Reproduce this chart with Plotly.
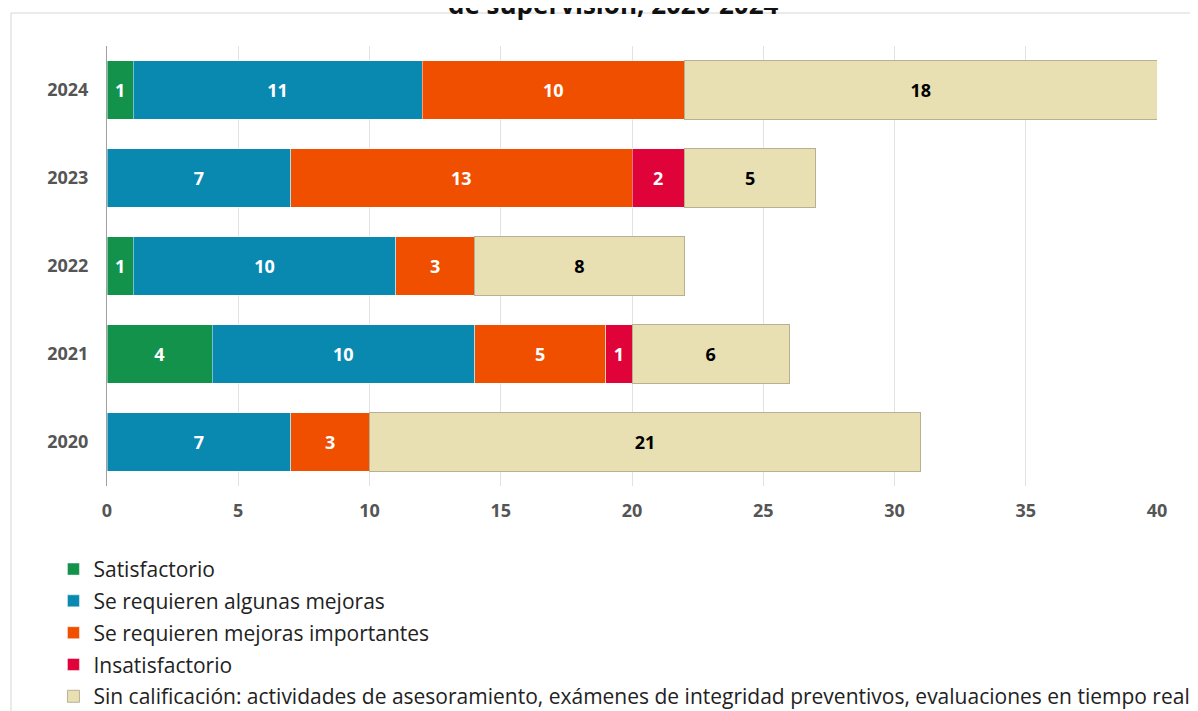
import plotly.graph_objects as go

years = ["2020", "2021", "2022", "2023", "2024"]
satisfactorio = [0, 4, 1, 0, 1]
algunas_mejoras = [7, 10, 10, 7, 11]
mejoras_importantes = [3, 5, 3, 13, 10]
insatisfactorio = [0, 1, 0, 2, 0]
sin_calificacion = [21, 6, 8, 5, 18]

series = [
    ("Satisfactorio", satisfactorio, "#13924c", "white", "rgba(255,255,255,0.45)"),
    ("Se requieren algunas mejoras", algunas_mejoras, "#0a89b0", "white", "rgba(255,255,255,0.45)"),
    ("Se requieren mejoras importantes", mejoras_importantes, "#f04f00", "white", "rgba(255,255,255,0.45)"),
    ("Insatisfactorio", insatisfactorio, "#e0033a", "white", "rgba(255,255,255,0.45)"),
    ("Sin calificación: actividades de asesoramiento, exámenes de integridad preventivos, evaluaciones en tiempo real",
     sin_calificacion, "#e8e0b2", "black", "#b9b092"),
]

FONT = "Open Sans, Noto Sans, sans-serif"

fig = go.Figure()
for i, (name, vals, color, tcolor, lcolor) in enumerate(series):
    fig.add_trace(go.Bar(
        y=years, x=vals, name=name, orientation="h",
        marker=dict(color=color, line=dict(color=lcolor, width=1)),
        text=[str(v) if v else "" for v in vals],
        textposition="inside", insidetextanchor="middle", textangle=0,
        textfont=dict(family=FONT, size=18, color=tcolor, weight="bold"),
        legendgroup=f"g{i}", width=0.67,
    ))

fig.update_layout(
    barmode="stack",
    width=1198, height=760,
    margin=dict(l=99, r=49, t=38, b=282),
    paper_bgcolor="white", plot_bgcolor="white",
    font=dict(family=FONT, size=16, color="#333"),
    uniformtext=dict(minsize=14, mode="show"),
    showlegend=True,
    legend=dict(
        x=-0.051, xanchor="left", y=-0.143, yanchor="top",
        traceorder="grouped", tracegroupgap=1.5,
        font=dict(family=FONT, size=21, color="#222"),
        bgcolor="rgba(0,0,0,0)",
    ),
    xaxis=dict(
        range=[0, 40], dtick=5, showgrid=True, gridcolor="#e2e2e2", gridwidth=1,
        zeroline=False, showline=False, ticks="",
        tickfont=dict(family=FONT, size=18, color="#555", weight="bold"),
        ticklabelstandoff=12,
    ),
    yaxis=dict(
        categoryorder="array", categoryarray=years, range=[-0.5, 4.5],
        showline=True, linecolor="#a0a0a0", linewidth=1, showgrid=False, ticks="",
        tickfont=dict(family=FONT, size=18, color="#555", weight="bold"),
        ticklabelstandoff=14,
    ),
    shapes=[dict(
        type="rect", xref="paper", yref="paper",
        x0=-0.0914, x1=1.06, y0=-0.6, y1=1.075,
        line=dict(color="#d6d6d6", width=1), fillcolor="rgba(0,0,0,0)", layer="below",
    )],
    annotations=[dict(
        text="de supervisión, 2020-2024", xref="paper", yref="paper",
        x=0.482, y=1.05, xanchor="center", yanchor="bottom", showarrow=False,
        font=dict(family=FONT, size=26, color="#111", weight="bold"),
    )],
)

fig.write_html("out.html")
